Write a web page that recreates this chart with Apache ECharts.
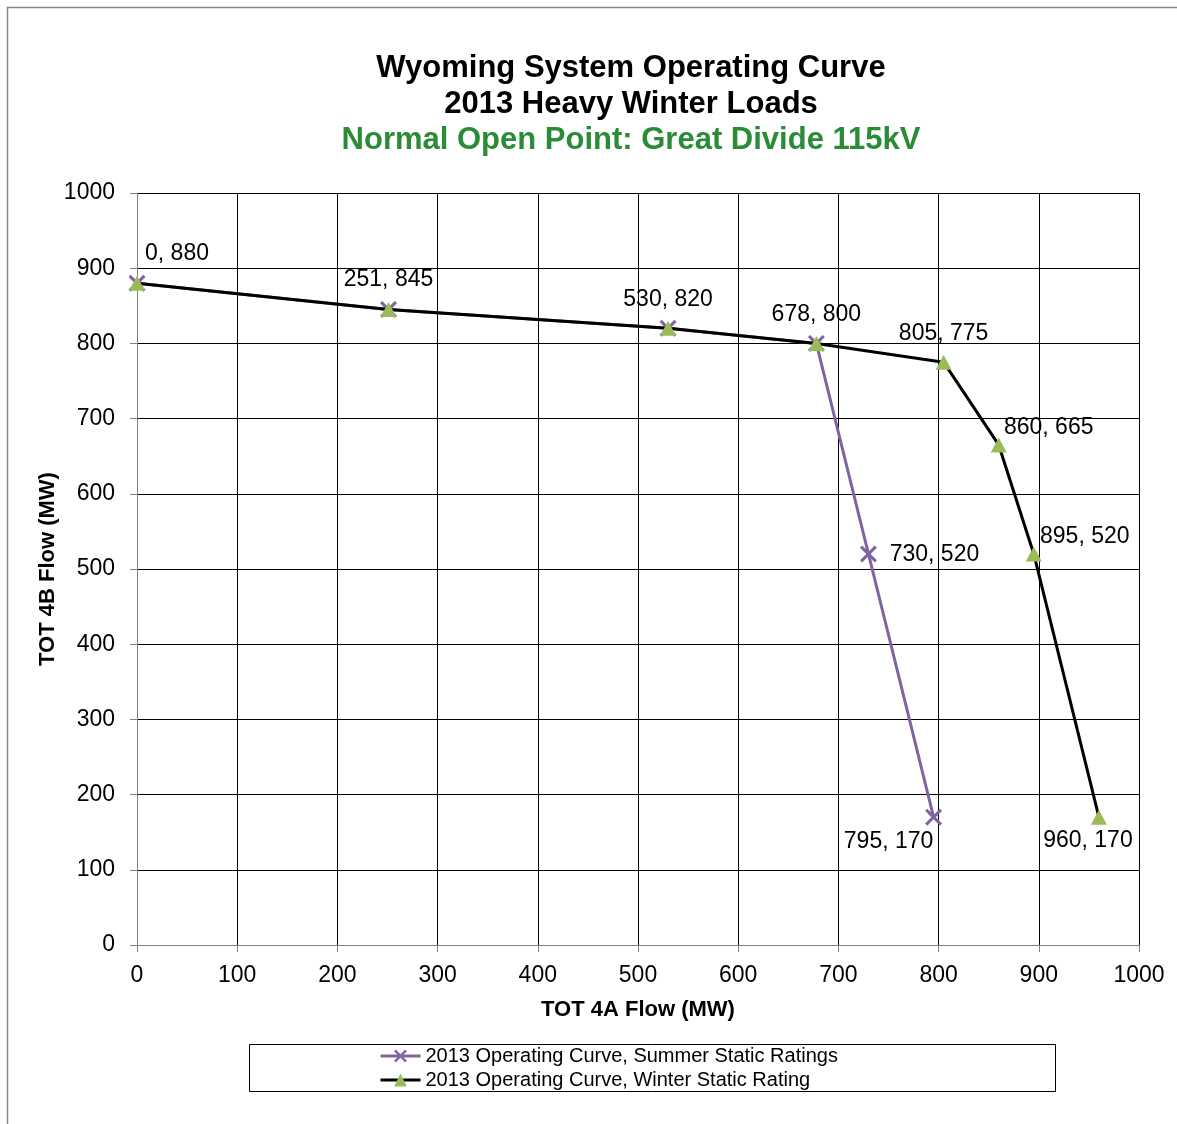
<!DOCTYPE html>
<html>
<head>
<meta charset="utf-8">
<script src="https://cdn.jsdelivr.net/npm/echarts@6/dist/echarts.min.js"></script>
<style>
html,body{margin:0;padding:0;background:#fff;}
#chart{width:1177px;height:1124px;}
</style>
</head>
<body>
<div id="chart"></div>
<script>
// ---- data ----
const titleLines = ['Wyoming System Operating Curve', '2013 Heavy Winter Loads', 'Normal Open Point: Great Divide 115kV'];
const xAxisName = 'TOT 4A Flow (MW)';
const yAxisName = 'TOT 4B Flow (MW)';
const summerName = '2013 Operating Curve, Summer Static Ratings';
const winterName = '2013 Operating Curve, Winter Static Rating';
const summerX = [0, 251, 530, 678, 730, 795];
const summerY = [880, 845, 820, 800, 520, 170];
const winterX = [0, 251, 530, 678, 805, 860, 895, 960];
const winterY = [880, 845, 820, 800, 775, 665, 520, 170];

// ---- presentation ----
const FONT = "'Liberation Sans', Arial, sans-serif";
const xShape = 'path://M0,1.3L1.3,0L5,3.7L8.7,0L10,1.3L6.3,5L10,8.7L8.7,10L5,6.3L1.3,10L0,8.7L3.7,5Z';
// label offsets (style only), keyed by point index
const winterLabelOffsets = [[40,-30],[0,-30],[0,-29],[0,-29],[0,-29],[50,-17],[51,-17],[-11,23]];
const summerLabelOffsets = {4:[66,1], 5:[-45,24]};

function buildData(xs, ys, offsets) {
  return xs.map((x, i) => {
    const off = offsets[i];
    const item = { value: [x, ys[i]] };
    item.label = off ? { show: true, position: 'inside', offset: off } : { show: false };
    return item;
  });
}

const labelStyle = {
  fontSize: 23, color: '#000', fontFamily: FONT,
  formatter: p => p.value[0] + ', ' + p.value[1]
};

const chart = echarts.init(document.getElementById('chart'), null, {renderer: 'canvas'});
const titleStyle = { fontSize: 31, fontWeight: 'bold', color: '#000', fontFamily: FONT, lineHeight: 36 };
const option = {
  backgroundColor: '#fff',
  animation: false,
  textStyle: { fontFamily: FONT },
  title: [
    { text: titleLines[0], left: 626, top: 45, textAlign: 'center', textStyle: titleStyle },
    { text: titleLines[1], left: 626, top: 81, textAlign: 'center', textStyle: titleStyle },
    { text: titleLines[2], left: 626, top: 117, textAlign: 'center',
      textStyle: Object.assign({}, titleStyle, { color: '#2A8C37' }) }
  ],
  graphic: [
    { type: 'rect', shape: { x: 7.5, y: 7.5, width: 1400, height: 1400 },
      style: { fill: 'none', stroke: '#868686', lineWidth: 1.5 }, silent: true, z: -1 },
    { type: 'rect', shape: { x: 249.5, y: 1044.5, width: 806, height: 47 },
      style: { fill: 'none', stroke: '#000', lineWidth: 1 }, silent: true }
  ],
  grid: { left: 137, right: 38, top: 193, bottom: 179, containLabel: false },
  legend: {
    orient: 'vertical', left: 374, top: 1041,
    itemWidth: 40, itemHeight: 16, itemGap: 4,
    lineStyle: { width: 3 },
    textStyle: { fontSize: 20, color: '#000', fontFamily: FONT, lineHeight: 20 },
    data: [summerName, winterName]
  },
  xAxis: {
    type: 'value', min: 0, max: 1000, interval: 100,
    name: xAxisName, nameLocation: 'middle', nameGap: 54, nameMoveOverlap: false,
    nameTextStyle: { fontSize: 22, fontWeight: 'bold', color: '#000', fontFamily: FONT },
    axisLine: { show: true, lineStyle: { color: '#808080', width: 1 } },
    axisTick: { show: true, length: 7, lineStyle: { color: '#808080' } },
    axisLabel: { fontSize: 23, color: '#000', margin: 19, fontFamily: FONT, formatter: v => String(v) },
    splitLine: { show: true, lineStyle: { color: '#000', width: 1 } }
  },
  yAxis: {
    type: 'value', min: 0, max: 1000, interval: 100,
    name: yAxisName, nameLocation: 'middle', nameGap: 78, nameMoveOverlap: false,
    nameTextStyle: { fontSize: 22, fontWeight: 'bold', color: '#000', fontFamily: FONT },
    axisLine: { show: true, lineStyle: { color: '#808080', width: 1 } },
    axisTick: { show: true, length: 7, lineStyle: { color: '#808080' } },
    axisLabel: { fontSize: 23, color: '#000', margin: 22, fontFamily: FONT, formatter: v => String(v) },
    splitLine: { show: true, lineStyle: { color: '#000', width: 1 } }
  },
  series: [
    {
      name: summerName, type: 'line', z: 2,
      data: buildData(summerX, summerY, summerLabelOffsets),
      symbol: xShape, symbolSize: 17,
      itemStyle: { color: '#8064A2' },
      lineStyle: { color: '#8064A2', width: 3 },
      label: labelStyle
    },
    {
      name: winterName, type: 'line', z: 3,
      data: buildData(winterX, winterY, winterLabelOffsets),
      symbol: 'triangle', symbolSize: [16, 15],
      itemStyle: { color: '#9BBB59' },
      lineStyle: { color: '#000', width: 3 },
      label: labelStyle
    }
  ]
};
chart.setOption(option);
</script>
</body>
</html>
